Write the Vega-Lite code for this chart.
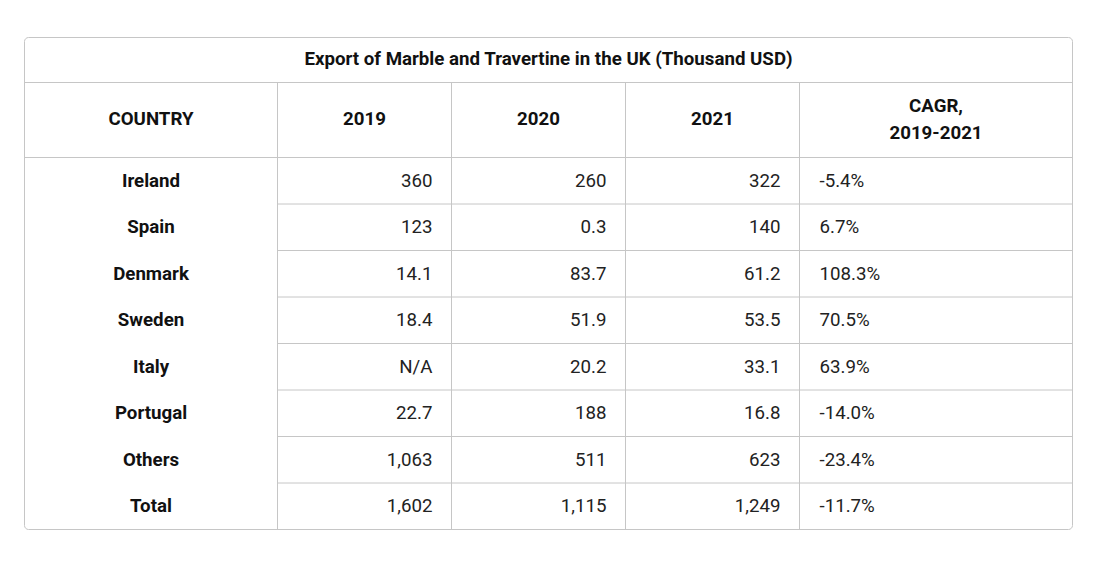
{
  "$schema": "https://vega.github.io/schema/vega-lite/v6.json",
  "width": 1048,
  "height": 492,
  "autosize": {"type": "none"},
  "padding": {"left": 24.5, "top": 37.5, "right": 0, "bottom": 0},
  "background": "white",
  "config": {"view": {"stroke": null}, "font": "Roboto"},
  "data": {
    "values": [
      {"row": 0, "country": "Ireland", "y2019": "360", "y2020": "260", "y2021": "322", "cagr": "-5.4%"},
      {"row": 1, "country": "Spain", "y2019": "123", "y2020": "0.3", "y2021": "140", "cagr": "6.7%"},
      {"row": 2, "country": "Denmark", "y2019": "14.1", "y2020": "83.7", "y2021": "61.2", "cagr": "108.3%"},
      {"row": 3, "country": "Sweden", "y2019": "18.4", "y2020": "51.9", "y2021": "53.5", "cagr": "70.5%"},
      {"row": 4, "country": "Italy", "y2019": "N/A", "y2020": "20.2", "y2021": "33.1", "cagr": "63.9%"},
      {"row": 5, "country": "Portugal", "y2019": "22.7", "y2020": "188", "y2021": "16.8", "cagr": "-14.0%"},
      {"row": 6, "country": "Others", "y2019": "1,063", "y2020": "511", "y2021": "623", "cagr": "-23.4%"},
      {"row": 7, "country": "Total", "y2019": "1,602", "y2020": "1,115", "y2021": "1,249", "cagr": "-11.7%"}
    ]
  },
  "encoding": {
    "x": {"type": "quantitative", "axis": null, "scale": {"domain": [0, 1, 2, 3, 4, 5], "range": [0, 253, 427, 601, 775, 1048], "nice": false, "zero": false}},
    "y": {"type": "quantitative", "axis": null, "scale": {"domain": [-2, -1, 0, 8], "range": [0, 45, 120, 492], "nice": false, "zero": false}}
  },
  "layer": [
    {
      "mark": {"type": "rule", "stroke": "#c6c6c6", "strokeWidth": 1},
      "encoding": {"y": {"field": "row", "type": "quantitative"}, "x": {"datum": 1}, "x2": {"datum": 5}}
    },
    {
      "data": {"values": [{}]},
      "mark": {"type": "rule", "stroke": "#c6c6c6", "strokeWidth": 1},
      "encoding": {"y": {"datum": -1}, "x": {"datum": 0}, "x2": {"datum": 5}}
    },
    {
      "data": {"values": [{}]},
      "mark": {"type": "rule", "stroke": "#c6c6c6", "strokeWidth": 1},
      "encoding": {"y": {"datum": 0}, "x": {"datum": 0}, "x2": {"datum": 5}}
    },
    {
      "data": {"values": [{}]},
      "mark": {"type": "rule", "stroke": "#c6c6c6", "strokeWidth": 1},
      "encoding": {"x": {"datum": 1}, "y": {"datum": -1}, "y2": {"datum": 8}}
    },
    {
      "data": {"values": [{}]},
      "mark": {"type": "rule", "stroke": "#c6c6c6", "strokeWidth": 1},
      "encoding": {"x": {"datum": 2}, "y": {"datum": -1}, "y2": {"datum": 8}}
    },
    {
      "data": {"values": [{}]},
      "mark": {"type": "rule", "stroke": "#c6c6c6", "strokeWidth": 1},
      "encoding": {"x": {"datum": 3}, "y": {"datum": -1}, "y2": {"datum": 8}}
    },
    {
      "data": {"values": [{}]},
      "mark": {"type": "rule", "stroke": "#c6c6c6", "strokeWidth": 1},
      "encoding": {"x": {"datum": 4}, "y": {"datum": -1}, "y2": {"datum": 8}}
    },
    {
      "data": {"values": [{}]},
      "mark": {"type": "rect", "fill": null, "fillOpacity": 0, "stroke": "#c6c6c6", "strokeWidth": 1, "cornerRadius": 4},
      "encoding": {"x": {"datum": 0}, "x2": {"datum": 5}, "y": {"datum": -2}, "y2": {"datum": 8}}
    },
    {
      "data": {"values": [{}]},
      "mark": {"type": "text", "font": "Roboto", "fontSize": 18.7, "fontWeight": "bold", "fill": "#111", "align": "center", "baseline": "middle", "dy": -1, "text": "Export of Marble and Travertine in the UK (Thousand USD)"},
      "encoding": {"x": {"datum": 2.5575}, "y": {"datum": -1.5}}
    },
    {
      "data": {"values": [{}]},
      "mark": {"type": "text", "font": "Roboto", "fontSize": 18.7, "fontWeight": "bold", "fill": "#111", "align": "center", "baseline": "middle", "dy": -1, "text": "COUNTRY"},
      "encoding": {"x": {"datum": 0.5}, "y": {"datum": -0.5}}
    },
    {
      "data": {"values": [{}]},
      "mark": {"type": "text", "font": "Roboto", "fontSize": 18.7, "fontWeight": "bold", "fill": "#111", "align": "center", "baseline": "middle", "dy": -1, "text": "2019"},
      "encoding": {"x": {"datum": 1.5}, "y": {"datum": -0.5}}
    },
    {
      "data": {"values": [{}]},
      "mark": {"type": "text", "font": "Roboto", "fontSize": 18.7, "fontWeight": "bold", "fill": "#111", "align": "center", "baseline": "middle", "dy": -1, "text": "2020"},
      "encoding": {"x": {"datum": 2.5}, "y": {"datum": -0.5}}
    },
    {
      "data": {"values": [{}]},
      "mark": {"type": "text", "font": "Roboto", "fontSize": 18.7, "fontWeight": "bold", "fill": "#111", "align": "center", "baseline": "middle", "dy": -1, "text": "2021"},
      "encoding": {"x": {"datum": 3.5}, "y": {"datum": -0.5}}
    },
    {
      "data": {"values": [{}]},
      "mark": {"type": "text", "font": "Roboto", "fontSize": 18.7, "fontWeight": "bold", "fill": "#111", "align": "center", "baseline": "middle", "lineHeight": 27, "dy": -14, "text": ["CAGR,", "2019-2021"]},
      "encoding": {"x": {"datum": 4.5}, "y": {"datum": -0.5}}
    },
    {
      "mark": {"type": "text", "font": "Roboto", "fontSize": 18.7, "fontWeight": "bold", "fill": "#111", "align": "center", "baseline": "middle", "dy": 23},
      "encoding": {"x": {"datum": 0.5}, "y": {"field": "row", "type": "quantitative"}, "text": {"field": "country"}}
    },
    {
      "mark": {"type": "text", "font": "Roboto", "fontSize": 18.7, "fill": "#222", "align": "right", "baseline": "middle", "dy": 23, "dx": -19},
      "encoding": {"x": {"datum": 2}, "y": {"field": "row", "type": "quantitative"}, "text": {"field": "y2019"}}
    },
    {
      "mark": {"type": "text", "font": "Roboto", "fontSize": 18.7, "fill": "#222", "align": "right", "baseline": "middle", "dy": 23, "dx": -19},
      "encoding": {"x": {"datum": 3}, "y": {"field": "row", "type": "quantitative"}, "text": {"field": "y2020"}}
    },
    {
      "mark": {"type": "text", "font": "Roboto", "fontSize": 18.7, "fill": "#222", "align": "right", "baseline": "middle", "dy": 23, "dx": -19},
      "encoding": {"x": {"datum": 4}, "y": {"field": "row", "type": "quantitative"}, "text": {"field": "y2021"}}
    },
    {
      "mark": {"type": "text", "font": "Roboto", "fontSize": 18.7, "fill": "#222", "align": "left", "baseline": "middle", "dy": 23, "dx": 20},
      "encoding": {"x": {"datum": 4}, "y": {"field": "row", "type": "quantitative"}, "text": {"field": "cagr"}}
    }
  ]
}
